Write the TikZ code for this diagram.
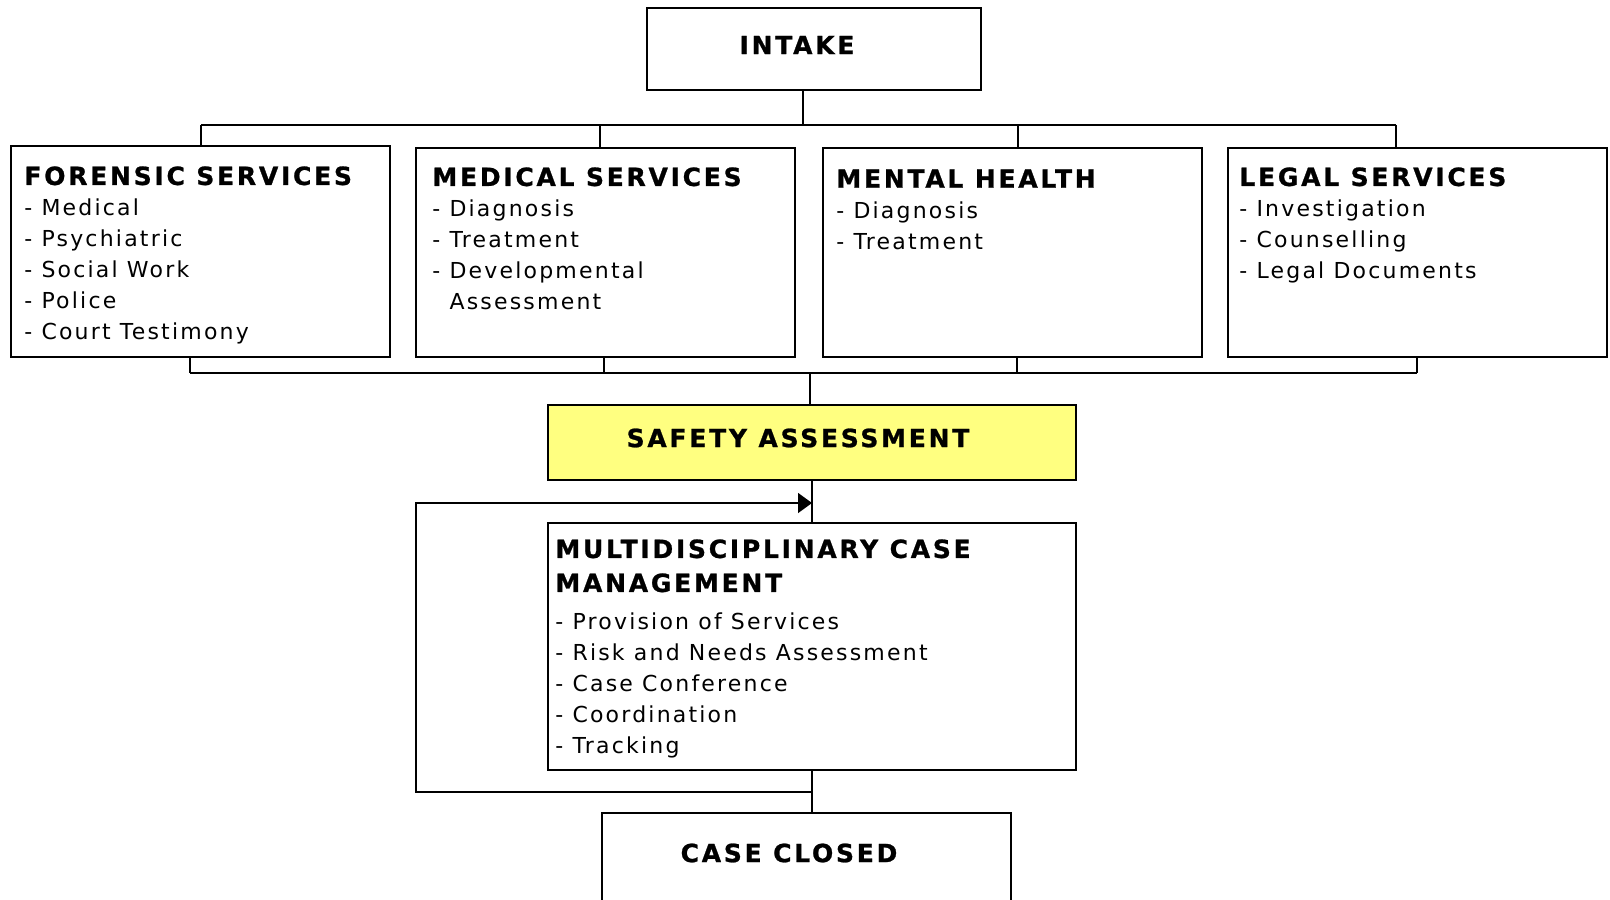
\documentclass[tikz,border=0pt]{standalone}
\usepackage{fontspec}
\newfontfamily\headfont[LetterSpace=11, BoldFeatures={FakeBold=1}]{DejaVu Sans}
\newfontfamily\listfont[LetterSpace=10]{DejaVu Sans}
\usetikzlibrary{arrows.meta, positioning}
\definecolor{safetyyellow}{RGB}{255,255,128}

\tikzset{
  box/.style={draw, line width=1pt, inner sep=0pt},
  head/.style={inner sep=0pt, font=\headfont\bfseries\fontsize{12.5}{17}\selectfont},
  items/.style={anchor=north west, align=left, inner sep=0pt,
    font=\listfont\fontsize{11}{15.5}\selectfont},
  link/.style={line width=0.75pt}
}
\newcommand{\hd}[1]{{\headfont\bfseries\fontsize{12.5}{17}\selectfont #1}}

\begin{document}
\begin{tikzpicture}[x=0.5pt, y=-0.5pt]
    \useasboundingbox (0,0) rectangle (1610,899);

    % Top box
    \node[box, minimum width=167pt, minimum height=41pt] (intake) at (814,49) {};
    \node[head] (intaketext) at (797,45) {INTAKE};

    % Service boxes
    \node[box, minimum width=189.5pt, minimum height=105.5pt] (forensic) at (200.5,251.5) {};
    \node[box, minimum width=189.5pt, minimum height=104.5pt] (medical) at (605.5,252.5) {};
    \node[box, minimum width=189.5pt, minimum height=104.5pt] (mental) at (1012.5,252.5) {};
    \node[box, minimum width=189.5pt, minimum height=104.5pt] (legal) at (1417.5,252.5) {};

    \node[items] (forensictext) at ([shift={(7pt,-10.5pt)}]forensic.north west)
      {\hd{FORENSIC SERVICES}\\- Medical\\- Psychiatric\\- Social Work\\- Police\\- Court Testimony};
    \node[items] (medicaltext) at ([shift={(8.5pt,-10pt)}]medical.north west)
      {\hd{MEDICAL SERVICES}\\- Diagnosis\\- Treatment\\- Developmental\\\phantom{- }Assessment};
    \node[items] (mentaltext) at ([shift={(7pt,-11pt)}]mental.north west)
      {\hd{MENTAL HEALTH}\\- Diagnosis\\- Treatment};
    \node[items] (legaltext) at ([shift={(6pt,-10pt)}]legal.north west)
      {\hd{LEGAL SERVICES}\\- Investigation\\- Counselling\\- Legal Documents};

    % Safety and case management
    \node[box, fill=safetyyellow, minimum width=264pt, minimum height=37.5pt] (safety) at (812,442.5) {};
    \node[head] (safetytext) at (798,438) {SAFETY ASSESSMENT};

    \node[box, minimum width=264pt, minimum height=123.5pt] (mcm) at (812,646.5) {};
    \node[items] (mcmtext) at ([shift={(4pt,-8.5pt)}]mcm.north west)
      {\hd{MULTIDISCIPLINARY CASE}\\[1.5pt]\hd{MANAGEMENT}\\[3.5pt]- Provision of Services\\- Risk and Needs Assessment\\- Case Conference\\- Coordination\\- Tracking};

    \node[box, minimum width=204.5pt, minimum height=73.5pt] (closed) at (806.5,886.5) {};
    \node[head] (closedtext) at (789,853) {CASE CLOSED};

    % Bus coordinates
    \coordinate (topbus) at (803,125);
    \coordinate (topleft) at (201,125);
    \coordinate (topright) at (1396,125);
    \coordinate (botbus) at (810,373);
    \coordinate (botleft) at (190,373);
    \coordinate (botright) at (1417,373);
    \coordinate (loopin) at (812,503);
    \coordinate (loopout) at (812,792);

    % Intake to services
    \draw[link] (intake.south -| topbus) -- (topbus);
    \draw[link] (topleft) -- (topright);
    \foreach \b/\x in {forensic/201, medical/600, mental/1018, legal/1396}
      \draw[link] (\x,125) -- (\b.north -| \x,125);

    % Services to safety assessment
    \draw[link] (botleft) -- (botright);
    \foreach \b/\x in {forensic/190, medical/604, mental/1017, legal/1417}
      \draw[link] (\b.south -| \x,373) -- (\x,373);
    \draw[link] (botbus) -- (safety.north -| botbus);

    % Case management loop
    \draw[link] (safety.south) -- (mcm.north);
    \draw[link] (mcm.south) -- (mcm.south |- closed.north);
    \draw[link, -{Triangle[length=7pt, width=10pt]}] (loopout) -- (416,792) -- (416,503) -- (loopin);
\end{tikzpicture}
\end{document}
